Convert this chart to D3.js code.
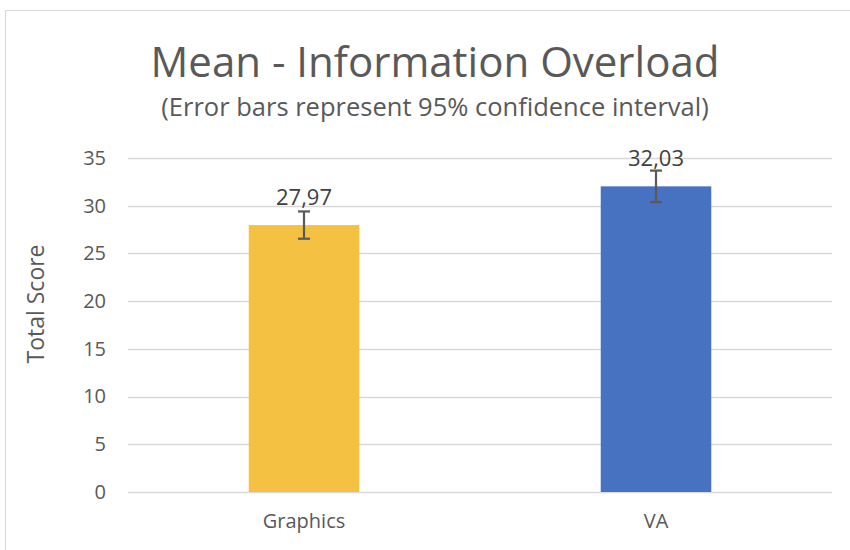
<!DOCTYPE html>
<html>
<head>
<meta charset="utf-8">
<script src="https://cdn.jsdelivr.net/npm/d3@7"></script>
<style>
  body { margin: 0; background: #fff; }
  text { font-family: "Open Sans", sans-serif; fill: #595959; }
</style>
</head>
<body>
<div id="chart"></div>
<script>
// Data
const categories = ["Graphics", "VA"];
const means = [27.97, 32.03];
const errors = [1.43, 1.65];
const labels = ["27,97", "32,03"];
const colors = ["#F5C142", "#4672C1"];
const yTicks = [0, 5, 10, 15, 20, 25, 30, 35];

const W = 850, H = 550;
const margin = {top: 158, right: 18, bottom: 58, left: 128};

const svg = d3.select("#chart")
  .append("svg")
    .attr("width", W)
    .attr("height", H);

// Chart frame
svg.append("rect")
  .attr("x", 5.5).attr("y", 10.5)
  .attr("width", 860).attr("height", 560)
  .attr("fill", "#fff")
  .attr("stroke", "#d9d9d9");

const x = d3.scaleBand()
  .domain(categories)
  .range([margin.left, W - margin.right])
  .paddingInner(0.686)
  .paddingOuter(0.343);

const y = d3.scaleLinear()
  .domain([0, 35])
  .range([H - margin.bottom, margin.top]);

// Gridlines
svg.append("g")
  .selectAll("line")
  .data(yTicks)
  .join("line")
    .attr("x1", margin.left)
    .attr("x2", W - margin.right)
    .attr("y1", d => Math.round(y(d)) + 0.5)
    .attr("y2", d => Math.round(y(d)) + 0.5)
    .attr("stroke", "#d9d9d9")
    .attr("stroke-width", 1.5);

// Y axis labels
svg.append("g")
  .attr("transform", `translate(${margin.left - 22},0)`)
  .call(d3.axisLeft(y).tickValues(yTicks).tickSize(0).tickPadding(0))
  .call(g => g.select(".domain").remove())
  .call(g => g.selectAll("text")
    .attr("font-size", 20)
    .style("fill", "#595959")
    .style("font-family", "'Open Sans', sans-serif"));

// X axis labels
svg.append("g")
  .attr("transform", `translate(0,${H - margin.bottom})`)
  .call(d3.axisBottom(x).tickSize(0).tickPadding(22))
  .call(g => g.select(".domain").remove())
  .call(g => g.selectAll("text")
    .attr("font-size", 20)
    .style("fill", "#595959")
    .style("font-family", "'Open Sans', sans-serif"));

// Bars
svg.append("g")
  .selectAll("rect")
  .data(categories)
  .join("rect")
    .attr("x", d => x(d))
    .attr("width", x.bandwidth())
    .attr("y", (d, i) => y(means[i]))
    .attr("height", (d, i) => y(0) - y(means[i]))
    .attr("fill", (d, i) => colors[i]);

// Error bars
const eb = svg.append("g")
  .attr("stroke", "#595959")
  .attr("stroke-width", 2.2);
categories.forEach((c, i) => {
  const cx = x(c) + x.bandwidth() / 2;
  const top = y(means[i] + errors[i]);
  const bot = y(means[i] - errors[i]);
  eb.append("line").attr("x1", cx).attr("x2", cx).attr("y1", top).attr("y2", bot);
  eb.append("line").attr("x1", cx - 6).attr("x2", cx + 6).attr("y1", top).attr("y2", top);
  eb.append("line").attr("x1", cx - 6).attr("x2", cx + 6).attr("y1", bot).attr("y2", bot);
});

// Data labels
svg.append("g")
  .selectAll("text")
  .data(categories)
  .join("text")
    .attr("x", d => x(d) + x.bandwidth() / 2)
    .attr("y", (d, i) => y(means[i]) - 20)
    .attr("text-anchor", "middle")
    .attr("font-size", 22)
    .style("fill", "#404040")
    .text((d, i) => labels[i]);

// Y axis title
svg.append("text")
  .attr("transform", "translate(44,304) rotate(-90)")
  .attr("text-anchor", "middle")
  .attr("font-size", 23)
  .text("Total Score");

// Title
svg.append("text")
  .attr("x", 435)
  .attr("y", 77)
  .attr("text-anchor", "middle")
  .attr("font-size", 42)
  .text("Mean - Information Overload");

svg.append("text")
  .attr("x", 435)
  .attr("y", 116)
  .attr("text-anchor", "middle")
  .attr("font-size", 25.5)
  .text("(Error bars represent 95% confidence interval)");
</script>
</body>
</html>
